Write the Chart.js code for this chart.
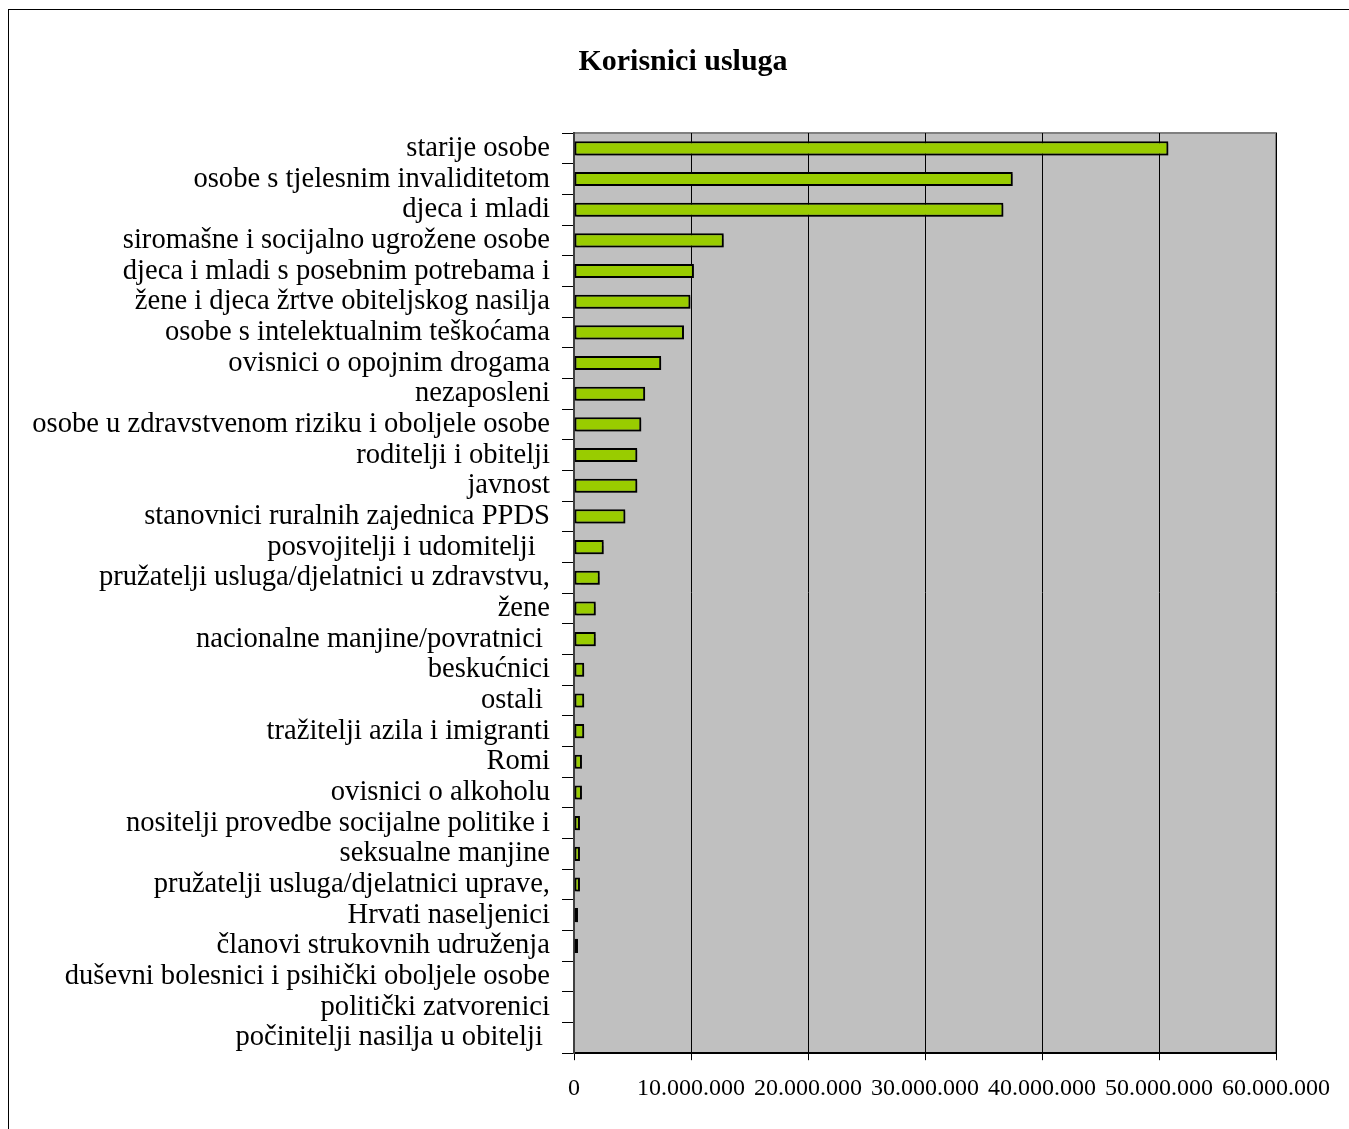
<!DOCTYPE html>
<html>
<head>
<meta charset="utf-8">
<script src="https://cdn.jsdelivr.net/npm/chart.js@4.4.0/dist/chart.umd.min.js"></script>
<style>
    body { margin: 0; background: #fff; overflow: hidden; }
    #frame { position: absolute; left: 8px; top: 9px; width: 1400px; height: 1200px; border-left: 1px solid #000; border-top: 1px solid #000; }
    #wrap { position: absolute; left: 0; top: 0; width: 1349px; height: 1129px; }
</style>
</head>
<body>
<div id="frame"></div>
<div id="wrap"><canvas id="chart"></canvas></div>
<script>
const chartTitle = 'Korisnici usluga';
const categories = [
    'starije osobe', 'osobe s tjelesnim invaliditetom', 'djeca i mladi', 'siromašne i socijalno ugrožene osobe',
    'djeca i mladi s posebnim potrebama i', 'žene i djeca žrtve obiteljskog nasilja', 'osobe s intelektualnim teškoćama',
    'ovisnici o opojnim drogama', 'nezaposleni', 'osobe u zdravstvenom riziku i oboljele osobe', 'roditelji i obitelji',
    'javnost', 'stanovnici ruralnih zajednica PPDS', 'posvojitelji i udomitelji  ', 'pružatelji usluga/djelatnici u zdravstvu,',
    'žene', 'nacionalne manjine/povratnici ', 'beskućnici', 'ostali ', 'tražitelji azila i imigranti', 'Romi',
    'ovisnici o alkoholu', 'nositelji provedbe socijalne politike i', 'seksualne manjine', 'pružatelji usluga/djelatnici uprave,',
    'Hrvati naseljenici', 'članovi strukovnih udruženja', 'duševni bolesnici i psihički oboljele osobe', 'politički zatvorenici',
    'počinitelji nasilja u obitelji '
];
const values = [
    50800000, 37500000, 36700000, 12800000, 10250000, 9950000, 9400000, 7450000, 6080000, 5750000, 5410000,
    5410000, 4390000, 2540000, 2200000, 1860000, 1860000, 870000, 870000, 870000, 680000,
    680000, 510000, 510000, 510000, 340000, 340000, 0, 0, 0
];
const xTicks = [0, 10000000, 20000000, 30000000, 40000000, 50000000, 60000000];

const ctx = document.getElementById('chart').getContext('2d');

function fmt(v) {
    return String(v).replace(/\B(?=(\d{3})+(?!\d))/g, '.');
}

// grey plot area, grey top/right border, title, bar shadow
const plotBg = {
    id: 'plotBg',
    beforeDraw(chart) {
        const a = chart.chartArea;
        const c = chart.ctx;
        c.save();
        c.fillStyle = '#c0c0c0';
        c.fillRect(a.left, a.top, a.right - a.left, a.bottom - a.top);
        c.strokeStyle = '#808080';
        c.lineWidth = 2;
        c.beginPath();
        c.moveTo(a.left, a.top);
        c.lineTo(a.right, a.top);
        c.lineTo(a.right, a.bottom);
        c.stroke();
        c.fillStyle = '#000';
        c.font = 'bold 30px "Liberation Serif"';
        c.textAlign = 'center';
        c.textBaseline = 'middle';
        c.fillText(chartTitle, 683, 62);
        c.restore();
    },
    beforeDatasetsDraw(chart) {
        chart.ctx.save();
        chart.ctx.shadowColor = 'rgba(0,0,0,0.35)';
        chart.ctx.shadowOffsetX = 2;
        chart.ctx.shadowOffsetY = 2;
        chart.ctx.shadowBlur = 1;
    },
    afterDatasetsDraw(chart) {
        chart.ctx.restore();
    }
};

let chart = new Chart(ctx, {
    type: 'bar',
    data: {
        labels: categories,
        datasets: [{
            label: chartTitle,
            data: values,
            backgroundColor: '#99cc00',
            borderColor: '#000',
            borderWidth: 2,
            borderSkipped: false,
            categoryPercentage: 1,
            barPercentage: 0.46
        }]
    },
    plugins: [plotBg],
    options: {
        indexAxis: 'y',
        responsive: true,
        maintainAspectRatio: false,
        animation: false,
        layout: { padding: { left: 0, right: 73, top: 133, bottom: 12 } },
        plugins: {
            legend: { display: false },
            tooltip: { enabled: false },
            title: { display: false }
        },
        scales: {
            x: {
                min: 0,
                max: 60000000,
                afterBuildTicks(scale) {
                    scale.ticks = xTicks.map(v => ({ value: v }));
                },
                grid: { color: '#000', lineWidth: 1, tickLength: 7, drawTicks: true },
                border: { color: '#000', width: 2 },
                ticks: {
                    color: '#000',
                    padding: 14,
                    maxRotation: 0,
                    font: { family: 'Liberation Serif', size: 24 },
                    callback: v => fmt(v)
                }
            },
            y: {
                afterFit(scale) { scale.width = 574; },
                grid: { offset: true, drawOnChartArea: false, color: '#000', tickLength: 12 },
                border: { color: '#404040', width: 2 },
                ticks: {
                    color: '#000',
                    padding: 12,
                    autoSkip: false,
                    font: { family: 'Liberation Serif', size: 28.6 }
                }
            }
        }
    }
});
</script>
</body>
</html>
